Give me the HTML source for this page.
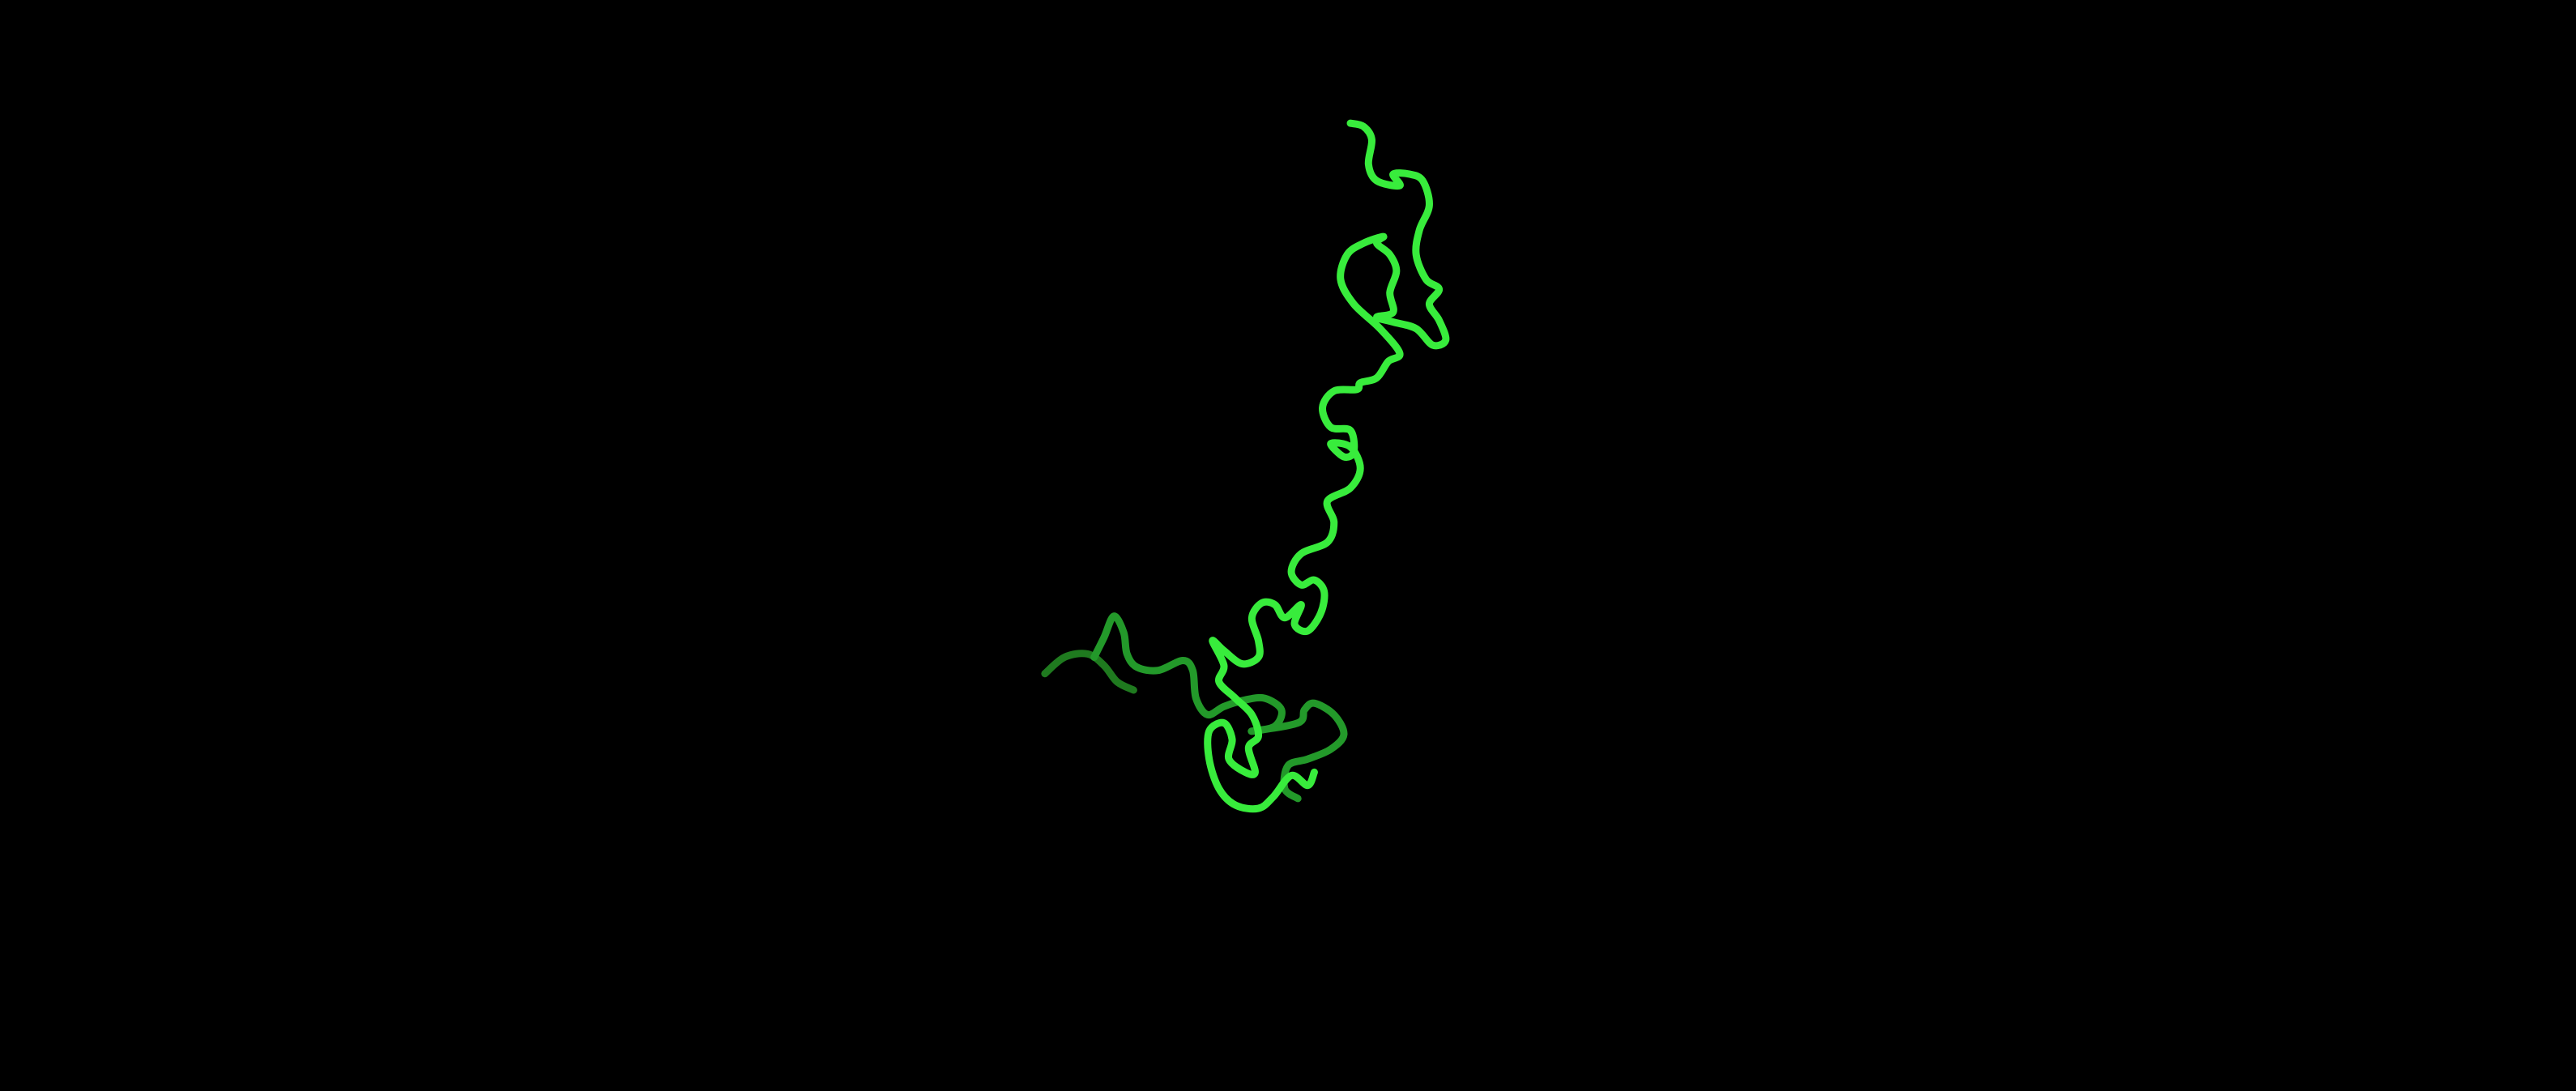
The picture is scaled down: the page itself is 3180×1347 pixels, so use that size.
<!DOCTYPE html>
<html><head><meta charset="utf-8"><style>
html,body{margin:0;padding:0;background:#000;width:3180px;height:1347px;overflow:hidden}
svg{display:block}
</style></head><body>
<svg id="chart" width="3180" height="1347" viewBox="0 0 3180 1347">
<rect width="3180" height="1347" fill="#000"/>
<g id="marks"></g>
</svg>
<script>
// backbone trace coordinates (reference units, 1568x664 frame)
const mainX=[822,830,835,833,838,852,848,858,866,870,864,862,868,876,870,876,880,872,862,848,838,848,846,850,846,838,842,830,820,816,824,840,852,845,838,828,826,812,805,810,822,824,818,810,822,828,822,808,812,808,792,786,792,800,806,804,796,788,792,782,776,768,762,766,766,756,745,738,745,742,752,762,766,760,764,758,748,750,745,736,736,742,752,766,775,786,796,800];
const mainY=[75,77,85,100,110,113,106,106,110,125,140,155,170,176,185,195,207,210,200,196,193,190,178,165,155,148,144,148,155,170,185,200,215,220,230,233,237,238,248,260,262,275,278,270,272,285,297,305,318,330,337,348,356,353,360,373,384,380,368,376,368,367,376,390,400,404,396,390,405,415,425,435,448,455,470,470,462,450,440,445,462,480,490,492,485,472,478,470];
const tailX=[636,648,662,672,680,690];
const tailY=[410,400,398,405,415,420];
const loopX=[666,672,678,684,686,692,705,720,726,728,735,745,758,770,780,776,762,790,794,800,812,818,810,796,784,782,790];
const loopY=[400,388,375,385,398,406,408,402,408,425,435,430,426,425,432,442,445,440,432,428,435,447,456,462,466,480,486];
const sx=v=>v*3180/1568, sy=v=>v*1347/664;
function pathFrom(xs,ys){
  const p=xs.map((x,i)=>[sx(x),sy(ys[i])]);
  let d=`M${p[0][0]},${p[0][1]}`;
  for(let i=0;i<p.length-1;i++){
    const p0=p[Math.max(i-1,0)],p1=p[i],p2=p[i+1],p3=p[Math.min(i+2,p.length-1)];
    const c1=[p1[0]+(p2[0]-p0[0])/6,p1[1]+(p2[1]-p0[1])/6];
    const c2=[p2[0]-(p3[0]-p1[0])/6,p2[1]-(p3[1]-p1[1])/6];
    d+=` C${c1[0]},${c1[1]} ${c2[0]},${c2[1]} ${p2[0]},${p2[1]}`;
  }
  return d;
}
const g=document.getElementById('marks');
function add(xs,ys,color,name){
  const el=document.createElementNS('http://www.w3.org/2000/svg','path');
  el.setAttribute('d',pathFrom(xs,ys));
  el.setAttribute('fill','none');
  el.setAttribute('stroke',color);
  el.setAttribute('stroke-width','9');
  el.setAttribute('stroke-linecap','round');
  el.setAttribute('stroke-linejoin','round');
  
  
  g.appendChild(el);
}
add(tailX,tailY,'#1f7a1f','backbone-tail');
add(loopX,loopY,'#23992a','backbone-lower-loop');
add(mainX,mainY,'#38ec3c','backbone-main-chain');
</script>
</body></html>
